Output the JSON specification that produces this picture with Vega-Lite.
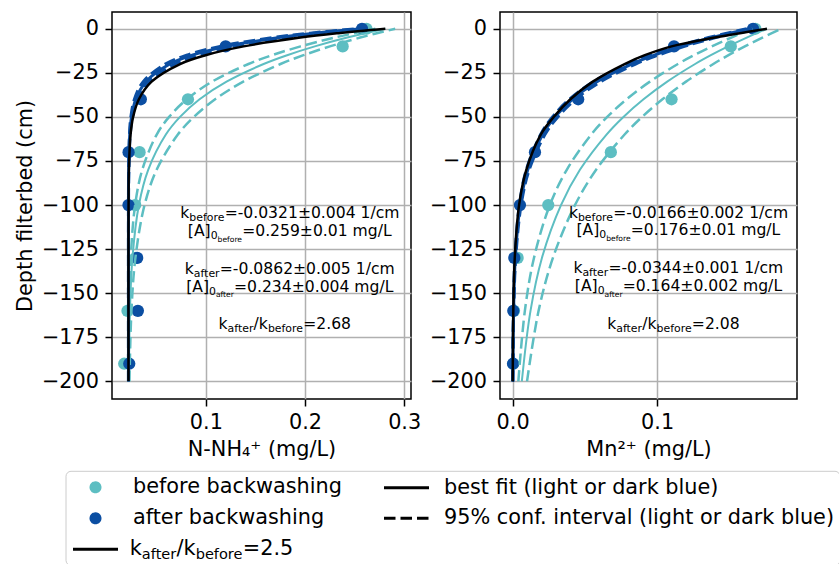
{
"$schema": "https://vega.github.io/schema/vega-lite/v6.json",
"background": "white",
"padding": {"left": 14, "top": 11, "right": 5, "bottom": 5},
"config": {
  "font": "DejaVu Sans",
  "view": {"stroke": "black", "strokeWidth": 1.5},
  "axis": {"domain": false, "grid": true, "gridColor": "#b0b0b0", "gridWidth": 1.5, "tickColor": "black", "tickSize": 7, "tickWidth": 1.5, "labelFontSize": 20.8, "labelColor": "black", "labelFont": "DejaVu Sans", "titleFontSize": 20.8, "titleFontWeight": "normal", "titleColor": "black", "titleFont": "DejaVu Sans", "labelFlush": false, "labelOverlap": false},
  "text": {"font": "DejaVu Sans"}
},
"datasets": {
  "pts": [
    {"p":"N","g":"b","d":0,"c":0.262},{"p":"N","g":"b","d":-10,"c":0.238},{"p":"N","g":"b","d":-40,"c":0.082},{"p":"N","g":"b","d":-70,"c":0.0332},{"p":"N","g":"b","d":-100,"c":0.0288},{"p":"N","g":"b","d":-130,"c":0.0295},{"p":"N","g":"b","d":-160,"c":0.021},{"p":"N","g":"b","d":-190,"c":0.0177},
    {"p":"N","g":"a","d":0,"c":0.2575},{"p":"N","g":"a","d":-10,"c":0.120},{"p":"N","g":"a","d":-40,"c":0.0345},{"p":"N","g":"a","d":-70,"c":0.0221},{"p":"N","g":"a","d":-100,"c":0.022},{"p":"N","g":"a","d":-130,"c":0.0308},{"p":"N","g":"a","d":-160,"c":0.0315},{"p":"N","g":"a","d":-190,"c":0.0228},
    {"p":"M","g":"b","d":0,"c":0.168},{"p":"M","g":"b","d":-10,"c":0.151},{"p":"M","g":"b","d":-40,"c":0.110},{"p":"M","g":"b","d":-70,"c":0.068},{"p":"M","g":"b","d":-100,"c":0.0247},{"p":"M","g":"b","d":-130,"c":0.0035},{"p":"M","g":"b","d":-160,"c":0.001},{"p":"M","g":"b","d":-190,"c":0.0005},
    {"p":"M","g":"a","d":0,"c":0.1664},{"p":"M","g":"a","d":-10,"c":0.1117},{"p":"M","g":"a","d":-40,"c":0.0454},{"p":"M","g":"a","d":-70,"c":0.0155},{"p":"M","g":"a","d":-100,"c":0.0051},{"p":"M","g":"a","d":-130,"c":0.0012},{"p":"M","g":"a","d":-160,"c":0.0005},{"p":"M","g":"a","d":-190,"c":0.0003}
  ],
  "fits": [
    {"p":"N","k":"b","d":0,"c":0.281},{"p":"N","k":"b","d":-5,"c":0.2426},{"p":"N","k":"b","d":-10,"c":0.2099},{"p":"N","k":"b","d":-15,"c":0.182},{"p":"N","k":"b","d":-20,"c":0.1583},{"p":"N","k":"b","d":-30,"c":0.1209},{"p":"N","k":"b","d":-40,"c":0.0937},{"p":"N","k":"b","d":-50,"c":0.074},{"p":"N","k":"b","d":-60,"c":0.0597},{"p":"N","k":"b","d":-80,"c":0.0419},{"p":"N","k":"b","d":-100,"c":0.0325},{"p":"N","k":"b","d":-130,"c":0.026},{"p":"N","k":"b","d":-160,"c":0.0235},{"p":"N","k":"b","d":-200,"c":0.0224},
    {"p":"N","k":"bl","d":0,"c":0.271},{"p":"N","k":"bl","d":-5,"c":0.2299},{"p":"N","k":"bl","d":-10,"c":0.1955},{"p":"N","k":"bl","d":-15,"c":0.1669},{"p":"N","k":"bl","d":-20,"c":0.143},{"p":"N","k":"bl","d":-30,"c":0.1063},{"p":"N","k":"bl","d":-40,"c":0.0808},{"p":"N","k":"bl","d":-50,"c":0.063},{"p":"N","k":"bl","d":-60,"c":0.0505},{"p":"N","k":"bl","d":-80,"c":0.0359},{"p":"N","k":"bl","d":-100,"c":0.0287},{"p":"N","k":"bl","d":-130,"c":0.0243},{"p":"N","k":"bl","d":-160,"c":0.0228},{"p":"N","k":"bl","d":-200,"c":0.0222},
    {"p":"N","k":"bh","d":0,"c":0.291},{"p":"N","k":"bh","d":-5,"c":0.2557},{"p":"N","k":"bh","d":-10,"c":0.2251},{"p":"N","k":"bh","d":-15,"c":0.1985},{"p":"N","k":"bh","d":-20,"c":0.1753},{"p":"N","k":"bh","d":-30,"c":0.1378},{"p":"N","k":"bh","d":-40,"c":0.1094},{"p":"N","k":"bh","d":-50,"c":0.088},{"p":"N","k":"bh","d":-60,"c":0.0718},{"p":"N","k":"bh","d":-80,"c":0.0504},{"p":"N","k":"bh","d":-100,"c":0.0382},{"p":"N","k":"bh","d":-130,"c":0.029},{"p":"N","k":"bh","d":-160,"c":0.025},{"p":"N","k":"bh","d":-200,"c":0.023},
    {"p":"N","k":"a","d":0,"c":0.256},{"p":"N","k":"a","d":-2.5,"c":0.2106},{"p":"N","k":"a","d":-5,"c":0.1741},{"p":"N","k":"a","d":-10,"c":0.1208},{"p":"N","k":"a","d":-15,"c":0.0862},{"p":"N","k":"a","d":-20,"c":0.0637},{"p":"N","k":"a","d":-30,"c":0.0396},{"p":"N","k":"a","d":-40,"c":0.0294},{"p":"N","k":"a","d":-50,"c":0.0251},{"p":"N","k":"a","d":-60,"c":0.0233},{"p":"N","k":"a","d":-80,"c":0.0222},{"p":"N","k":"a","d":-100,"c":0.022},{"p":"N","k":"a","d":-130,"c":0.022},{"p":"N","k":"a","d":-160,"c":0.022},{"p":"N","k":"a","d":-200,"c":0.022},
    {"p":"N","k":"al","d":0,"c":0.252},{"p":"N","k":"al","d":-2.5,"c":0.2051},{"p":"N","k":"al","d":-5,"c":0.1678},{"p":"N","k":"al","d":-10,"c":0.1144},{"p":"N","k":"al","d":-15,"c":0.0806},{"p":"N","k":"al","d":-20,"c":0.0591},{"p":"N","k":"al","d":-30,"c":0.0369},{"p":"N","k":"al","d":-40,"c":0.028},{"p":"N","k":"al","d":-50,"c":0.0244},{"p":"N","k":"al","d":-60,"c":0.023},{"p":"N","k":"al","d":-80,"c":0.0222},{"p":"N","k":"al","d":-100,"c":0.022},{"p":"N","k":"al","d":-130,"c":0.022},{"p":"N","k":"al","d":-160,"c":0.022},{"p":"N","k":"al","d":-200,"c":0.022},
    {"p":"N","k":"ah","d":0,"c":0.26},{"p":"N","k":"ah","d":-2.5,"c":0.2163},{"p":"N","k":"ah","d":-5,"c":0.1806},{"p":"N","k":"ah","d":-10,"c":0.1277},{"p":"N","k":"ah","d":-15,"c":0.0924},{"p":"N","k":"ah","d":-20,"c":0.0689},{"p":"N","k":"ah","d":-30,"c":0.0428},{"p":"N","k":"ah","d":-40,"c":0.0312},{"p":"N","k":"ah","d":-50,"c":0.0261},{"p":"N","k":"ah","d":-60,"c":0.0238},{"p":"N","k":"ah","d":-80,"c":0.0224},{"p":"N","k":"ah","d":-100,"c":0.0221},{"p":"N","k":"ah","d":-130,"c":0.022},{"p":"N","k":"ah","d":-160,"c":0.022},{"p":"N","k":"ah","d":-200,"c":0.022},
    {"p":"N","k":"r","d":0,"c":0.281},{"p":"N","k":"r","d":-2.5,"c":0.2339},{"p":"N","k":"r","d":-5,"c":0.1954},{"p":"N","k":"r","d":-10,"c":0.1381},{"p":"N","k":"r","d":-15,"c":0.0997},{"p":"N","k":"r","d":-20,"c":0.074},{"p":"N","k":"r","d":-30,"c":0.0453},{"p":"N","k":"r","d":-40,"c":0.0325},{"p":"N","k":"r","d":-50,"c":0.0267},{"p":"N","k":"r","d":-60,"c":0.0241},{"p":"N","k":"r","d":-80,"c":0.0224},{"p":"N","k":"r","d":-100,"c":0.0221},{"p":"N","k":"r","d":-130,"c":0.022},{"p":"N","k":"r","d":-160,"c":0.022},{"p":"N","k":"r","d":-200,"c":0.022},
    {"p":"M","k":"b","d":0,"c":0.176},{"p":"M","k":"b","d":-5,"c":0.162},{"p":"M","k":"b","d":-10,"c":0.1491},{"p":"M","k":"b","d":-15,"c":0.1372},{"p":"M","k":"b","d":-20,"c":0.1263},{"p":"M","k":"b","d":-30,"c":0.107},{"p":"M","k":"b","d":-40,"c":0.0906},{"p":"M","k":"b","d":-50,"c":0.0767},{"p":"M","k":"b","d":-60,"c":0.065},{"p":"M","k":"b","d":-80,"c":0.0466},{"p":"M","k":"b","d":-100,"c":0.0335},{"p":"M","k":"b","d":-130,"c":0.0203},{"p":"M","k":"b","d":-160,"c":0.0124},{"p":"M","k":"b","d":-200,"c":0.0064},
    {"p":"M","k":"bl","d":0,"c":0.166},{"p":"M","k":"bl","d":-5,"c":0.1513},{"p":"M","k":"bl","d":-10,"c":0.1378},{"p":"M","k":"bl","d":-15,"c":0.1256},{"p":"M","k":"bl","d":-20,"c":0.1144},{"p":"M","k":"bl","d":-30,"c":0.095},{"p":"M","k":"bl","d":-40,"c":0.0789},{"p":"M","k":"bl","d":-50,"c":0.0655},{"p":"M","k":"bl","d":-60,"c":0.0544},{"p":"M","k":"bl","d":-80,"c":0.0375},{"p":"M","k":"bl","d":-100,"c":0.0258},{"p":"M","k":"bl","d":-130,"c":0.0148},{"p":"M","k":"bl","d":-160,"c":0.0085},{"p":"M","k":"bl","d":-200,"c":0.004},
    {"p":"M","k":"bh","d":0,"c":0.186},{"p":"M","k":"bh","d":-5,"c":0.1729},{"p":"M","k":"bh","d":-10,"c":0.1607},{"p":"M","k":"bh","d":-15,"c":0.1494},{"p":"M","k":"bh","d":-20,"c":0.1389},{"p":"M","k":"bh","d":-30,"c":0.12},{"p":"M","k":"bh","d":-40,"c":0.1037},{"p":"M","k":"bh","d":-50,"c":0.0896},{"p":"M","k":"bh","d":-60,"c":0.0775},{"p":"M","k":"bh","d":-80,"c":0.0578},{"p":"M","k":"bh","d":-100,"c":0.0432},{"p":"M","k":"bh","d":-130,"c":0.0279},{"p":"M","k":"bh","d":-160,"c":0.018},{"p":"M","k":"bh","d":-200,"c":0.01},
    {"p":"M","k":"a","d":0,"c":0.164},{"p":"M","k":"a","d":-5,"c":0.1381},{"p":"M","k":"a","d":-10,"c":0.1163},{"p":"M","k":"a","d":-15,"c":0.0979},{"p":"M","k":"a","d":-20,"c":0.0824},{"p":"M","k":"a","d":-30,"c":0.0584},{"p":"M","k":"a","d":-40,"c":0.0414},{"p":"M","k":"a","d":-50,"c":0.0294},{"p":"M","k":"a","d":-60,"c":0.0208},{"p":"M","k":"a","d":-80,"c":0.0105},{"p":"M","k":"a","d":-100,"c":0.0053},{"p":"M","k":"a","d":-130,"c":0.0019},{"p":"M","k":"a","d":-160,"c":0.0007},{"p":"M","k":"a","d":-200,"c":0.0002},
    {"p":"M","k":"al","d":0,"c":0.162},{"p":"M","k":"al","d":-5,"c":0.1357},{"p":"M","k":"al","d":-10,"c":0.1137},{"p":"M","k":"al","d":-15,"c":0.0953},{"p":"M","k":"al","d":-20,"c":0.0798},{"p":"M","k":"al","d":-30,"c":0.056},{"p":"M","k":"al","d":-40,"c":0.0393},{"p":"M","k":"al","d":-50,"c":0.0276},{"p":"M","k":"al","d":-60,"c":0.0194},{"p":"M","k":"al","d":-80,"c":0.0095},{"p":"M","k":"al","d":-100,"c":0.0047},{"p":"M","k":"al","d":-130,"c":0.0016},{"p":"M","k":"al","d":-160,"c":0.0006},{"p":"M","k":"al","d":-200,"c":0.0001},
    {"p":"M","k":"ah","d":0,"c":0.166},{"p":"M","k":"ah","d":-5,"c":0.1405},{"p":"M","k":"ah","d":-10,"c":0.1189},{"p":"M","k":"ah","d":-15,"c":0.1006},{"p":"M","k":"ah","d":-20,"c":0.0851},{"p":"M","k":"ah","d":-30,"c":0.061},{"p":"M","k":"ah","d":-40,"c":0.0436},{"p":"M","k":"ah","d":-50,"c":0.0313},{"p":"M","k":"ah","d":-60,"c":0.0224},{"p":"M","k":"ah","d":-80,"c":0.0115},{"p":"M","k":"ah","d":-100,"c":0.0059},{"p":"M","k":"ah","d":-130,"c":0.0022},{"p":"M","k":"ah","d":-160,"c":0.0008},{"p":"M","k":"ah","d":-200,"c":0.0002},
    {"p":"M","k":"r","d":0,"c":0.176},{"p":"M","k":"r","d":-5,"c":0.14},{"p":"M","k":"r","d":-10,"c":0.11},{"p":"M","k":"r","d":-15,"c":0.0915},{"p":"M","k":"r","d":-20,"c":0.0775},{"p":"M","k":"r","d":-30,"c":0.0555},{"p":"M","k":"r","d":-40,"c":0.04},{"p":"M","k":"r","d":-50,"c":0.0285},{"p":"M","k":"r","d":-60,"c":0.0195},{"p":"M","k":"r","d":-80,"c":0.0095},{"p":"M","k":"r","d":-100,"c":0.0045},{"p":"M","k":"r","d":-130,"c":0.0015},{"p":"M","k":"r","d":-160,"c":0.0005},{"p":"M","k":"r","d":-200,"c":0.0001}
  ],
  "ann": [
    {"p":"N","c":0.0743,"d":-107.3,"m1":"k","s1":"before","rA":"=-0.0321±0.004 1/cm"},
    {"p":"N","c":0.0819,"d":-117.6,"m1":"[A]","s0":"0","ss":"before","rC":"=0.259±0.01 mg/L"},
    {"p":"N","c":0.0788,"d":-139.3,"m1":"k","s1":"after","rB":"=-0.0862±0.005 1/cm"},
    {"p":"N","c":0.0802,"d":-149.2,"m1":"[A]","s0":"0","ss":"after","rD":"=0.234±0.004 mg/L"},
    {"p":"N","c":0.1129,"d":-170.3,"m1":"k","s1":"after","m2":"/k","s2":"before","rE":"=2.68"},
    {"p":"M","c":0.039,"d":-107.1,"m1":"k","s1":"before","rA":"=-0.0166±0.002 1/cm"},
    {"p":"M","c":0.0442,"d":-117.2,"m1":"[A]","s0":"0","ss":"before","rC":"=0.176±0.01 mg/L"},
    {"p":"M","c":0.0421,"d":-138.5,"m1":"k","s1":"after","rB":"=-0.0344±0.001 1/cm"},
    {"p":"M","c":0.0431,"d":-148.8,"m1":"[A]","s0":"0","ss":"after","rD":"=0.164±0.002 mg/L"},
    {"p":"M","c":0.0655,"d":-170.3,"m1":"k","s1":"after","m2":"/k","s2":"before","rE":"=2.08"}
  ],
  "lt": [{"c":0.0234,"d":-298.3,"m1":"k","s1":"after","m2":"/k","s2":"before","r":"=2.5"}],
  "leg": [{"e":"before backwashing"},{"e":"after backwashing"},{"e":"ratio"},{"e":"best fit (light or dark blue)"},{"e":"95% conf. interval (light or dark blue)"}]
},
"spacing": 89,
"bounds": "flush",
"hconcat": [
{
  "width": 299, "height": 387,
  "encoding": {
    "x": {"field":"c","type":"quantitative","scale":{"domain":[0.0054,0.3069],"nice":false,"zero":false},"axis":{"values":[0.1,0.2,0.3],"format":".1f","title":"N-NH₄⁺ (mg/L)","labelPadding":6,"titlePadding":8}},
    "y": {"field":"d","type":"quantitative","scale":{"domain":[-210,9.5],"nice":false,"zero":false},"axis":{"values":[-200,-175,-150,-125,-100,-75,-50,-25,0],"title":"Depth filterbed (cm)","labelPadding":6.5,"titlePadding":5.5}}
  },
  "layer": [
    {"data":{"name":"pts"},"transform":[{"filter":"datum.p=='N' && datum.g=='b'"}],"mark":{"type":"point","filled":true,"opacity":1,"size":150,"color":"#5DBEC2"}},
    {"data":{"name":"pts"},"transform":[{"filter":"datum.p=='N' && datum.g=='a'"}],"mark":{"type":"point","filled":true,"opacity":1,"size":150,"color":"#0B4EA2"}},
    {"data":{"name":"fits"},"transform":[{"filter":"datum.p=='N' && datum.k=='b'"}],"mark":{"type":"line","color":"#5DBEC2","strokeWidth":2,"interpolate":"catmull-rom"},"encoding":{"order":{"field":"d","type":"quantitative"}}},
    {"data":{"name":"fits"},"transform":[{"filter":"datum.p=='N' && (datum.k=='bl' || datum.k=='bh')"}],"mark":{"type":"line","color":"#5DBEC2","strokeWidth":2.5,"strokeDash":[11.5,5],"interpolate":"catmull-rom"},"encoding":{"order":{"field":"d","type":"quantitative"},"detail":{"field":"k"}}},
    {"data":{"name":"fits"},"transform":[{"filter":"datum.p=='N' && datum.k=='a'"}],"mark":{"type":"line","color":"#0B4EA2","strokeWidth":3,"interpolate":"catmull-rom"},"encoding":{"order":{"field":"d","type":"quantitative"}}},
    {"data":{"name":"fits"},"transform":[{"filter":"datum.p=='N' && (datum.k=='al' || datum.k=='ah')"}],"mark":{"type":"line","color":"#0B4EA2","strokeWidth":3,"strokeDash":[11.5,5],"interpolate":"catmull-rom"},"encoding":{"order":{"field":"d","type":"quantitative"},"detail":{"field":"k"}}},
    {"data":{"name":"fits"},"transform":[{"filter":"datum.p=='N' && datum.k=='r'"}],"mark":{"type":"line","color":"black","strokeWidth":2.5,"interpolate":"catmull-rom"},"encoding":{"order":{"field":"d","type":"quantitative"}}},
    {"data":{"name":"ann"},"transform":[{"filter":"datum.p=='N'"}],"mark":{"type":"text","align":"left","baseline":"alphabetic","fontSize":15.6,"color":"black"},"encoding":{"text":{"field":"m1"}}},
    {"data":{"name":"ann"},"transform":[{"filter":"datum.p=='N' && isValid(datum.s1)"}],"mark":{"type":"text","align":"left","baseline":"alphabetic","fontSize":10.9,"dx":9,"dy":3,"color":"black"},"encoding":{"text":{"field":"s1"}}},
    {"data":{"name":"ann"},"transform":[{"filter":"datum.p=='N' && isValid(datum.s0)"}],"mark":{"type":"text","align":"left","baseline":"alphabetic","fontSize":10.9,"dx":22.8,"dy":3,"color":"black"},"encoding":{"text":{"field":"s0"}}},
    {"data":{"name":"ann"},"transform":[{"filter":"datum.p=='N' && isValid(datum.ss)"}],"mark":{"type":"text","align":"left","baseline":"alphabetic","fontSize":7.6,"dx":29.7,"dy":5.5,"color":"black"},"encoding":{"text":{"field":"ss"}}},
    {"data":{"name":"ann"},"transform":[{"filter":"datum.p=='N' && isValid(datum.m2)"}],"mark":{"type":"text","align":"left","baseline":"alphabetic","fontSize":15.6,"dx":35,"color":"black"},"encoding":{"text":{"field":"m2"}}},
    {"data":{"name":"ann"},"transform":[{"filter":"datum.p=='N' && isValid(datum.s2)"}],"mark":{"type":"text","align":"left","baseline":"alphabetic","fontSize":10.9,"dx":49.3,"dy":3,"color":"black"},"encoding":{"text":{"field":"s2"}}},
    {"data":{"name":"ann"},"transform":[{"filter":"datum.p=='N' && isValid(datum.rA)"}],"mark":{"type":"text","align":"left","baseline":"alphabetic","fontSize":15.6,"dx":44.3,"color":"black"},"encoding":{"text":{"field":"rA"}}},
    {"data":{"name":"ann"},"transform":[{"filter":"datum.p=='N' && isValid(datum.rB)"}],"mark":{"type":"text","align":"left","baseline":"alphabetic","fontSize":15.6,"dx":35,"color":"black"},"encoding":{"text":{"field":"rB"}}},
    {"data":{"name":"ann"},"transform":[{"filter":"datum.p=='N' && isValid(datum.rC)"}],"mark":{"type":"text","align":"left","baseline":"alphabetic","fontSize":15.6,"dx":54.3,"color":"black"},"encoding":{"text":{"field":"rC"}}},
    {"data":{"name":"ann"},"transform":[{"filter":"datum.p=='N' && isValid(datum.rD)"}],"mark":{"type":"text","align":"left","baseline":"alphabetic","fontSize":15.6,"dx":47.8,"color":"black"},"encoding":{"text":{"field":"rD"}}},
    {"data":{"name":"ann"},"transform":[{"filter":"datum.p=='N' && isValid(datum.rE)"}],"mark":{"type":"text","align":"left","baseline":"alphabetic","fontSize":15.6,"dx":84.6,"color":"black"},"encoding":{"text":{"field":"rE"}}},
    {"data":{"name":"lt"},"mark":{"type":"text","align":"left","baseline":"alphabetic","fontSize":20.8,"color":"black"},"encoding":{"text":{"field":"m1"}}},
    {"data":{"name":"lt"},"mark":{"type":"text","align":"left","baseline":"alphabetic","fontSize":14.56,"dx":12,"dy":4,"color":"black"},"encoding":{"text":{"field":"s1"}}},
    {"data":{"name":"lt"},"mark":{"type":"text","align":"left","baseline":"alphabetic","fontSize":20.8,"dx":46.7,"color":"black"},"encoding":{"text":{"field":"m2"}}},
    {"data":{"name":"lt"},"mark":{"type":"text","align":"left","baseline":"alphabetic","fontSize":14.56,"dx":65.8,"dy":4,"color":"black"},"encoding":{"text":{"field":"s2"}}},
    {"data":{"name":"lt"},"mark":{"type":"text","align":"left","baseline":"alphabetic","fontSize":20.8,"dx":113,"color":"black"},"encoding":{"text":{"field":"r"}}},
    {"data":{"name":"leg"},"transform":[{"filter":"datum.e=='none'"}],"mark":{"type":"point","filled":true,"opacity":1,"strokeWidth":3},
     "encoding":{
      "fill":{"field":"e","type":"nominal","title":null,"scale":{"domain":["before backwashing","after backwashing","ratio","best fit (light or dark blue)","95% conf. interval (light or dark blue)"],"range":["#5DBEC2","#0B4EA2","black","black","black"]},
        "legend":{"orient":"none","legendX":-46.5,"legendY":458.8,"columns":2,"columnPadding":35,"rowPadding":9,"symbolSize":400,"symbolStrokeWidth":3,"symbolOffset":13.5,"labelOffset":26,"labelFontSize":20.8,"labelFont":"DejaVu Sans","labelLimit":700,"labelColor":"black","padding":5,"strokeColor":"#cccccc","cornerRadius":5,"labelExpr":"datum.value == 'ratio' ? '' : datum.label"}},
      "stroke":{"field":"e","type":"nominal","title":null,"scale":{"domain":["before backwashing","after backwashing","ratio","best fit (light or dark blue)","95% conf. interval (light or dark blue)"],"range":["#5DBEC2","#0B4EA2","black","black","black"]},
        "legend":{"orient":"none","legendX":-46.5,"legendY":458.8,"columns":2,"columnPadding":35,"rowPadding":9,"symbolSize":400,"symbolStrokeWidth":3,"symbolOffset":13.5,"labelOffset":26,"labelFontSize":20.8,"labelFont":"DejaVu Sans","labelLimit":700,"labelColor":"black","padding":5,"strokeColor":"#cccccc","cornerRadius":5,"labelExpr":"datum.value == 'ratio' ? '' : datum.label"}},
      "shape":{"field":"e","type":"nominal","title":null,"scale":{"domain":["before backwashing","after backwashing","ratio","best fit (light or dark blue)","95% conf. interval (light or dark blue)"],"range":["M-0.45,0A0.45,0.45,0,1,1,0.45,0A0.45,0.45,0,1,1,-0.45,0Z","M-0.45,0A0.45,0.45,0,1,1,0.45,0A0.45,0.45,0,1,1,-0.45,0Z","M-2.25,0H2.25","M-2.25,0H2.25","M-2.25,0H2.25"]},
        "legend":{"orient":"none","legendX":-46.5,"legendY":458.8,"columns":2,"columnPadding":35,"rowPadding":9,"symbolSize":400,"symbolStrokeWidth":3,"symbolOffset":13.5,"labelOffset":26,"labelFontSize":20.8,"labelFont":"DejaVu Sans","labelLimit":700,"labelColor":"black","padding":5,"strokeColor":"#cccccc","cornerRadius":5,"labelExpr":"datum.value == 'ratio' ? '' : datum.label"}},
      "strokeDash":{"field":"e","type":"nominal","title":null,"scale":{"domain":["before backwashing","after backwashing","ratio","best fit (light or dark blue)","95% conf. interval (light or dark blue)"],"range":[[1,0],[1,0],[1,0],[1,0],[11.5,5]]},
        "legend":{"orient":"none","legendX":-46.5,"legendY":458.8,"columns":2,"columnPadding":35,"rowPadding":9,"symbolSize":400,"symbolStrokeWidth":3,"symbolOffset":13.5,"labelOffset":26,"labelFontSize":20.8,"labelFont":"DejaVu Sans","labelLimit":700,"labelColor":"black","padding":5,"strokeColor":"#cccccc","cornerRadius":5,"labelExpr":"datum.value == 'ratio' ? '' : datum.label"}}
     }}
  ]
},
{
  "width": 297, "height": 387,
  "encoding": {
    "x": {"field":"c","type":"quantitative","scale":{"domain":[-0.0087,0.1968],"nice":false,"zero":false},"axis":{"values":[0,0.1],"format":".1f","title":"Mn²⁺  (mg/L)","labelPadding":6,"titlePadding":8}},
    "y": {"field":"d","type":"quantitative","scale":{"domain":[-210,9.5],"nice":false,"zero":false},"axis":{"values":[-200,-175,-150,-125,-100,-75,-50,-25,0],"title":null,"labelPadding":6.5}}
  },
  "layer": [
    {"data":{"name":"pts"},"transform":[{"filter":"datum.p=='M' && datum.g=='b'"}],"mark":{"type":"point","filled":true,"opacity":1,"size":150,"color":"#5DBEC2"}},
    {"data":{"name":"pts"},"transform":[{"filter":"datum.p=='M' && datum.g=='a'"}],"mark":{"type":"point","filled":true,"opacity":1,"size":150,"color":"#0B4EA2"}},
    {"data":{"name":"fits"},"transform":[{"filter":"datum.p=='M' && datum.k=='b'"}],"mark":{"type":"line","color":"#5DBEC2","strokeWidth":2,"interpolate":"catmull-rom"},"encoding":{"order":{"field":"d","type":"quantitative"}}},
    {"data":{"name":"fits"},"transform":[{"filter":"datum.p=='M' && (datum.k=='bl' || datum.k=='bh')"}],"mark":{"type":"line","color":"#5DBEC2","strokeWidth":2.5,"strokeDash":[11.5,5],"interpolate":"catmull-rom"},"encoding":{"order":{"field":"d","type":"quantitative"},"detail":{"field":"k"}}},
    {"data":{"name":"fits"},"transform":[{"filter":"datum.p=='M' && datum.k=='a'"}],"mark":{"type":"line","color":"#0B4EA2","strokeWidth":3,"interpolate":"catmull-rom"},"encoding":{"order":{"field":"d","type":"quantitative"}}},
    {"data":{"name":"fits"},"transform":[{"filter":"datum.p=='M' && (datum.k=='al' || datum.k=='ah')"}],"mark":{"type":"line","color":"#0B4EA2","strokeWidth":3,"strokeDash":[11.5,5],"interpolate":"catmull-rom"},"encoding":{"order":{"field":"d","type":"quantitative"},"detail":{"field":"k"}}},
    {"data":{"name":"fits"},"transform":[{"filter":"datum.p=='M' && datum.k=='r'"}],"mark":{"type":"line","color":"black","strokeWidth":2.5,"interpolate":"catmull-rom"},"encoding":{"order":{"field":"d","type":"quantitative"}}},
    {"data":{"name":"ann"},"transform":[{"filter":"datum.p=='M'"}],"mark":{"type":"text","align":"left","baseline":"alphabetic","fontSize":15.6,"color":"black"},"encoding":{"text":{"field":"m1"}}},
    {"data":{"name":"ann"},"transform":[{"filter":"datum.p=='M' && isValid(datum.s1)"}],"mark":{"type":"text","align":"left","baseline":"alphabetic","fontSize":10.9,"dx":9,"dy":3,"color":"black"},"encoding":{"text":{"field":"s1"}}},
    {"data":{"name":"ann"},"transform":[{"filter":"datum.p=='M' && isValid(datum.s0)"}],"mark":{"type":"text","align":"left","baseline":"alphabetic","fontSize":10.9,"dx":22.8,"dy":3,"color":"black"},"encoding":{"text":{"field":"s0"}}},
    {"data":{"name":"ann"},"transform":[{"filter":"datum.p=='M' && isValid(datum.ss)"}],"mark":{"type":"text","align":"left","baseline":"alphabetic","fontSize":7.6,"dx":29.7,"dy":5.5,"color":"black"},"encoding":{"text":{"field":"ss"}}},
    {"data":{"name":"ann"},"transform":[{"filter":"datum.p=='M' && isValid(datum.m2)"}],"mark":{"type":"text","align":"left","baseline":"alphabetic","fontSize":15.6,"dx":35,"color":"black"},"encoding":{"text":{"field":"m2"}}},
    {"data":{"name":"ann"},"transform":[{"filter":"datum.p=='M' && isValid(datum.s2)"}],"mark":{"type":"text","align":"left","baseline":"alphabetic","fontSize":10.9,"dx":49.3,"dy":3,"color":"black"},"encoding":{"text":{"field":"s2"}}},
    {"data":{"name":"ann"},"transform":[{"filter":"datum.p=='M' && isValid(datum.rA)"}],"mark":{"type":"text","align":"left","baseline":"alphabetic","fontSize":15.6,"dx":44.3,"color":"black"},"encoding":{"text":{"field":"rA"}}},
    {"data":{"name":"ann"},"transform":[{"filter":"datum.p=='M' && isValid(datum.rB)"}],"mark":{"type":"text","align":"left","baseline":"alphabetic","fontSize":15.6,"dx":35,"color":"black"},"encoding":{"text":{"field":"rB"}}},
    {"data":{"name":"ann"},"transform":[{"filter":"datum.p=='M' && isValid(datum.rC)"}],"mark":{"type":"text","align":"left","baseline":"alphabetic","fontSize":15.6,"dx":54.3,"color":"black"},"encoding":{"text":{"field":"rC"}}},
    {"data":{"name":"ann"},"transform":[{"filter":"datum.p=='M' && isValid(datum.rD)"}],"mark":{"type":"text","align":"left","baseline":"alphabetic","fontSize":15.6,"dx":47.8,"color":"black"},"encoding":{"text":{"field":"rD"}}},
    {"data":{"name":"ann"},"transform":[{"filter":"datum.p=='M' && isValid(datum.rE)"}],"mark":{"type":"text","align":"left","baseline":"alphabetic","fontSize":15.6,"dx":84.6,"color":"black"},"encoding":{"text":{"field":"rE"}}}
  ]
}
]
}
